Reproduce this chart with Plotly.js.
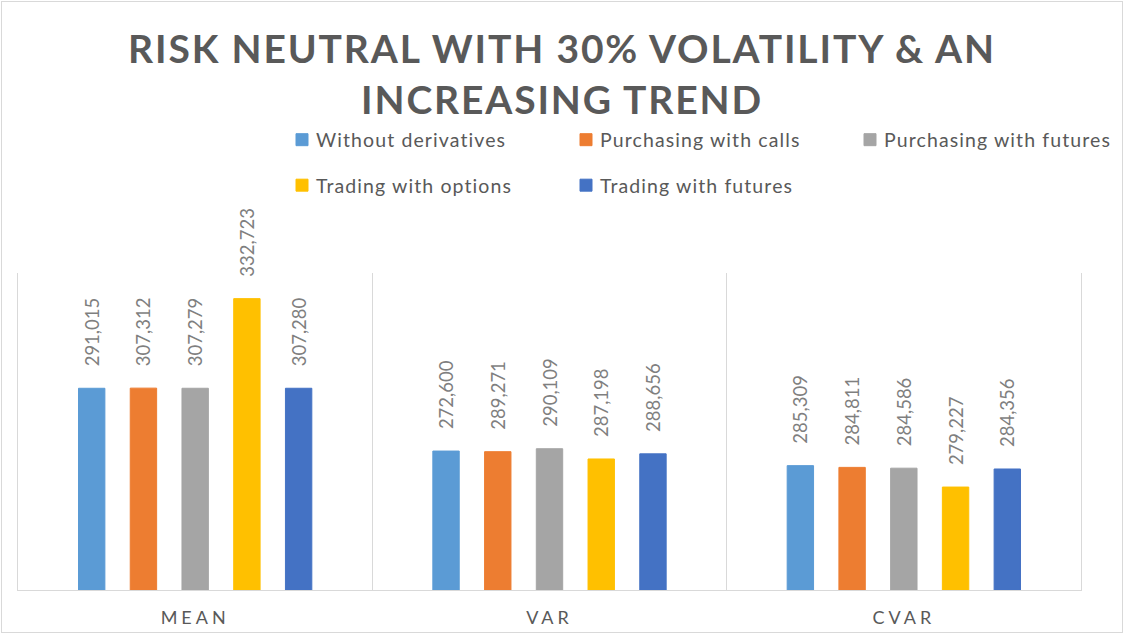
<!DOCTYPE html>
<html>
<head>
<meta charset="utf-8">
<script src="https://cdn.plot.ly/plotly-3.0.1.min.js"></script>
<style>
  html, body { margin: 0; padding: 0; background: #ffffff; }
  #frame { position: absolute; left: 1px; top: 1px; border: 1px solid #d9d9d9; background: #fff; }
  #chart { width: 1120px; height: 630px; }
  .gtitle { letter-spacing: 1.85px; }
  .xtick text { letter-spacing: 4px; }
  g.traces text[class^="legend"] { letter-spacing: 1.1px; transform: translate(-6px, 0px) !important; }
</style>
</head>
<body>
<div id="frame"><div id="chart"></div></div>
<script>
// ---- data ----
const categories = ["MEAN", "VAR", "CVAR"];
const seriesNames = [
  "Without derivatives",
  "Purchasing with calls",
  "Purchasing with futures",
  "Trading with options",
  "Trading with futures"
];
// bar heights as drawn in the reference
const withoutDerivatives    = [307270, 289450, 285309];
const purchasingWithCalls   = [307312, 289271, 284811];
const purchasingWithFutures = [307279, 290109, 284586];
const tradingWithOptions    = [332723, 287198, 279227];
const tradingWithFutures    = [307280, 288656, 284356];
// data labels as printed in the reference
const labelsWithoutDerivatives    = ["291,015", "272,600", "285,309"];
const labelsPurchasingWithCalls   = ["307,312", "289,271", "284,811"];
const labelsPurchasingWithFutures = ["307,279", "290,109", "284,586"];
const labelsTradingWithOptions    = ["332,723", "287,198", "279,227"];
const labelsTradingWithFutures    = ["307,280", "288,656", "284,356"];

const seriesValues = [withoutDerivatives, purchasingWithCalls, purchasingWithFutures, tradingWithOptions, tradingWithFutures];
const seriesLabels = [labelsWithoutDerivatives, labelsPurchasingWithCalls, labelsPurchasingWithFutures, labelsTradingWithOptions, labelsTradingWithFutures];
const colors = ["#5b9bd5", "#ed7d31", "#a5a5a5", "#ffc000", "#4472c4"];
const legendOf = ["legend", "legend", "legend", "legend2", "legend2"];

const pad = "\u00a0\u00a0\u00a0\u00a0";
const FONT = "Lato, 'Open Sans', sans-serif";

const traces = seriesNames.map((name, i) => ({
  type: "bar",
  name: name,
  x: categories,
  y: seriesValues[i],
  text: seriesLabels[i].map(t => pad + t),
  textposition: "outside",
  textangle: -90,
  constraintext: "none",
  cliponaxis: false,
  textfont: { family: FONT, size: 18.5, color: "#7f7f7f" },
  marker: { color: colors[i], line: { color: colors[i], width: 1 } },
  legend: legendOf[i],
  hoverinfo: "skip"
}));

const legendCommon = {
  orientation: "h",
  xref: "container", yref: "container",
  x: 0.25, xanchor: "left",
  yanchor: "middle",
  entrywidth: 239, entrywidthmode: "pixels",
  font: { family: FONT, size: 19.5, color: "#595959" },
  bgcolor: "rgba(0,0,0,0)",
  borderwidth: 0,
  traceorder: "normal"
};

const layout = {
  width: 1120, height: 630,
  margin: { l: 15.5, r: 41.3, t: 271, b: 42, pad: 0 },
  paper_bgcolor: "#ffffff",
  plot_bgcolor: "#ffffff",
  title: {
    text: "RISK NEUTRAL WITH 30% VOLATILITY & AN<br>INCREASING TREND",
    font: { family: FONT, size: 39, weight: 700, color: "#595959" },
    x: 0.5, xref: "container", xanchor: "center",
    y: 1 - 61 / 630, yref: "container", yanchor: "top",
    automargin: false
  },
  barmode: "group",
  bargap: 0.27,
  bargroupgap: 0.49,
  showlegend: true,
  legend: Object.assign({}, legendCommon, { y: 1 - 138 / 630 }),
  legend2: Object.assign({}, legendCommon, { y: 1 - 183.5 / 630 }),
  xaxis: {
    type: "category",
    tickson: "boundaries",
    showgrid: true, gridcolor: "#d9d9d9", gridwidth: 1,
    showline: true, linecolor: "#d9d9d9", linewidth: 1,
    ticks: "",
    ticklabelstandoff: 11,
    zeroline: false,
    tickfont: { family: FONT, size: 18, color: "#595959" },
    fixedrange: true
  },
  yaxis: {
    range: [250000, 340000],
    showgrid: false, zeroline: false,
    showticklabels: false, ticks: "",
    showline: true, mirror: true, linecolor: "#d9d9d9", linewidth: 1,
    fixedrange: true
  }
};

Plotly.newPlot("chart", traces, layout, { displayModeBar: false, staticPlot: true });
</script>
</body>
</html>
